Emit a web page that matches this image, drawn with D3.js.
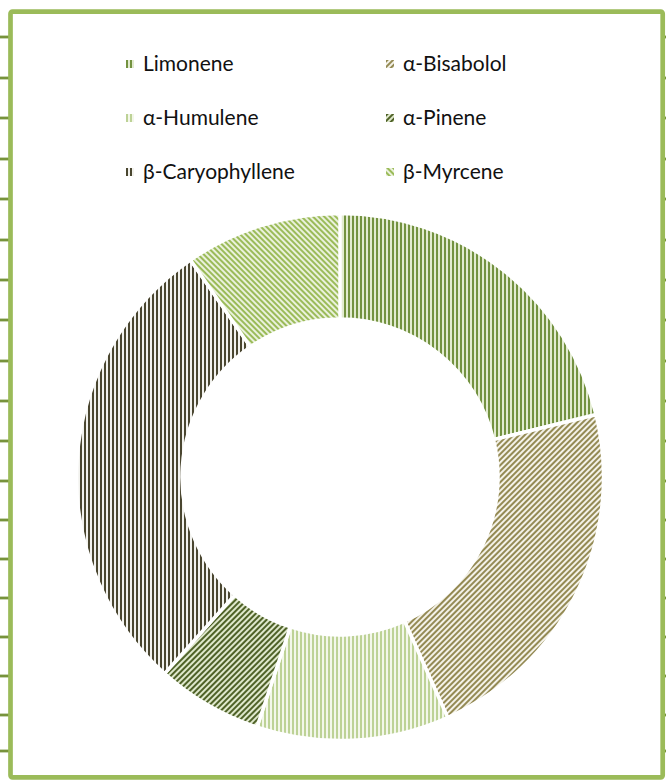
<!DOCTYPE html>
<html>
<head>
<meta charset="utf-8">
<script src="https://cdn.jsdelivr.net/npm/d3@7"></script>
<style>
  body { margin: 0; background: #fff; }
  svg { display: block; }
</style>
</head>
<body>
<svg id="chart" width="666" height="783"></svg>
<script>
// terpene share (percent of the ring)
var terpenes = ["Limonene", "α-Bisabolol", "α-Humulene", "α-Pinene", "β-Caryophyllene", "β-Myrcene"];
var shares = [21.2, 22.1, 11.8, 6.5, 28.8, 9.6];
// sheet row lines poking out at the sides of the chart area
var rowLines = [37, 78, 118, 159, 199, 240, 280, 320, 361, 401, 441, 481, 520, 559, 598, 637, 676, 715, 751];

var fills = [
    { kind: "vert", fg: "#739240", bg: "#e2ebd0" },
    { kind: "up",   fg: "#948a54", bg: "#f4f2e8" },
    { kind: "vert", fg: "#bdd296", bg: "#f3f7ea" },
    { kind: "up",   fg: "#4f6228", bg: "#dfe8cc" },
    { kind: "vert", fg: "#4a4630", bg: "#f2f2ee" },
    { kind: "down", fg: "#9bbb59", bg: "#eaf1dc" }
];

var svg = d3.select("#chart");
var defs = svg.append("defs");

fills.forEach(function(f, i) {
    var p = defs.append("pattern")
        .attr("id", "fill" + i)
        .attr("patternUnits", "userSpaceOnUse")
        .attr("width", 4)
        .attr("height", 4);
    if (f.kind == "up") p.attr("patternTransform", "rotate(45)");
    if (f.kind == "down") p.attr("patternTransform", "rotate(-45)");
    p.append("rect").attr("width", 4).attr("height", 4).attr("fill", f.bg);
    p.append("rect").attr("width", 2).attr("height", 4).attr("fill", f.fg);
});

// row ticks on both sides
svg.selectAll(".tickL")
    .data(rowLines)
  .enter().append("rect")
    .attr("class", "tickL")
    .attr("x", 0).attr("y", function(d) { return d - 1.4; })
    .attr("width", 9).attr("height", 2.8)
    .attr("fill", "#77933c");
svg.selectAll(".tickR")
    .data(rowLines)
  .enter().append("rect")
    .attr("class", "tickR")
    .attr("x", 662).attr("y", function(d) { return d - 1.4; })
    .attr("width", 4).attr("height", 2.8)
    .attr("fill", "#77933c");

// chart area border
svg.append("rect")
    .attr("x", 10.5).attr("y", 11.7)
    .attr("width", 652.2).attr("height", 765.6)
    .attr("rx", 2)
    .attr("fill", "#fff")
    .attr("stroke", "#9bbb59")
    .attr("stroke-width", 4.7);

// doughnut
var pie = d3.pie().sort(null).value(function(d) { return d; });
var arc = d3.arc().innerRadius(158).outerRadius(263.5);

var ring = svg.append("g")
    .attr("transform", "translate(340,477)");

ring.selectAll("path")
    .data(pie(shares))
  .enter().append("path")
    .attr("d", arc)
    .attr("fill", function(d, i) { return "url(#fill" + i + ")"; })
    .attr("stroke", "#fff")
    .attr("stroke-width", 3.5);

// legend, two columns
var legend = svg.append("g");
var item = legend.selectAll(".item")
    .data(terpenes)
  .enter().append("g")
    .attr("class", "item")
    .attr("transform", function(d, i) {
        return "translate(" + (i % 2 == 0 ? 126 : 386) + "," + (60 + Math.floor(i / 2) * 54) + ")";
    });

item.append("rect")
    .attr("width", 8).attr("height", 8)
    .attr("fill", function(d, i) { return "url(#fill" + i + ")"; });

item.append("text")
    .attr("x", 17).attr("y", 11)
    .style("font-family", "Lato, 'Open Sans', sans-serif")
    .style("font-size", "21px")
    .style("fill", "#111")
    .text(function(d) { return d; });
</script>
</body>
</html>
